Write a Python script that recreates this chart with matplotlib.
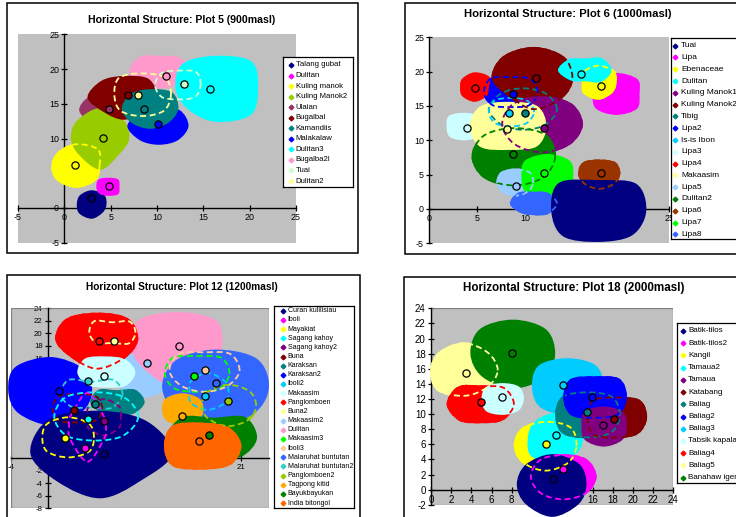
import numpy as np
import matplotlib
matplotlib.use("Agg")
import matplotlib.pyplot as plt
from matplotlib.path import Path
from matplotlib.patches import PathPatch, Rectangle

plt.rcParams["font.family"] = ["Liberation Sans", "DejaVu Sans"]
plt.rcParams["axes.unicode_minus"] = False

# ---------------------------------------------------------------------------
# Plot 5 (900 masl)
# crown radii are listed E, NE, N, NW, W, SW, S, SE (metres) around the crown centre
P5_NAMES = ["Talang gubat", "Dulitan", "Kuling manok", "Kuling Manok2", "Ulaian",
            "Bugalbal", "Kamandiis", "Malakalaw", "Dulitan3", "Bugalba2l", "Tuai", "Dulitan2"]
P5_COLORS = ["#000080", "#FF00FF", "#FFFF00", "#99CC00", "#993366", "#800000",
             "#008080", "#0000FF", "#00FFFF", "#FF99CC", "#CCFFCC", "#FFFF99"]
P5_TREE_X = [2.84, 4.78, 1.19, 4.14, 4.78, 6.83, 8.63, 10.07, 15.7, 10.94, 12.95, 7.99]
P5_TREE_Y = [1.39, 3.11, 6.12, 10.14, 14.2, 16.2, 14.2, 12.1, 17.1, 19.0, 17.9, 16.2]
P5_CROWN_X = [2.95, 4.75, 1.3, 3.9, 4.3, 6.4, 9.3, 10.2, 16.3, 10.4, 12.3, 8.4]
P5_CROWN_Y = [0.55, 3.05, 6.1, 10.0, 14.1, 15.9, 14.3, 11.8, 17.2, 19.5, 17.7, 16.3]
P5_CROWN_R = [
    [1.6, 1.9, 2.0, 1.8, 1.6, 1.9, 2.1, 1.7],
    [1.2, 1.5, 1.3, 1.5, 1.3, 1.4, 1.3, 1.5],
    [2.6, 3.4, 3.2, 2.8, 2.7, 3.0, 3.2, 3.0],
    [3.1, 3.6, 4.4, 3.6, 3.2, 3.3, 4.5, 3.0],
    [2.5, 2.2, 2.0, 2.5, 2.7, 2.3, 2.2, 2.2],
    [3.6, 3.8, 3.1, 3.4, 3.9, 3.0, 3.2, 3.0],
    [3.0, 3.3, 2.8, 3.0, 3.1, 2.9, 2.9, 2.8],
    [3.2, 3.2, 2.6, 2.8, 3.4, 2.9, 2.7, 2.9],
    [4.6, 5.5, 4.7, 5.0, 4.3, 4.2, 4.8, 5.4],
    [3.3, 3.0, 2.4, 3.2, 3.4, 2.8, 2.3, 2.5],
    [2.5, 2.8, 2.2, 2.6, 2.6, 2.6, 2.2, 2.6],
    [3.2, 3.6, 3.2, 3.6, 3.1, 3.4, 3.2, 3.4],
]
P5_FILLED = [4, 2, 3, 9, 5, 7, 6, 8, 0, 1]
P5_DASHED = [2, 10, 11]

# ---------------------------------------------------------------------------
# Plot 6 (1000 masl)
P6_NAMES = ["Tuai", "Lipa", "Ebenaceae", "Dulitan", "Kuling Manok1", "Kuling Manok2",
            "Tibig", "Lipa2", "Is-is Ibon", "Lipa3", "Lipa4", "Makaasim", "Lipa5",
            "Dulitan2", "Lipa6", "Lipa7", "Lipa8"]
P6_COLORS = ["#000080", "#FF00FF", "#FFFF00", "#00FFFF", "#800080", "#800000",
             "#008080", "#0000FF", "#00CCFF", "#CCFFFF", "#FF0000", "#FFFF99",
             "#99CCFF", "#008000", "#993300", "#00FF00", "#3366FF"]
P6_TREE_X = [np.nan, np.nan, 17.85, 15.76, 11.94, 11.1, 10.0, 8.75, 8.33, 3.96, 4.8,
             8.06, 9.03, 8.75, 17.85, 11.9, np.nan]
P6_TREE_Y = [np.nan, np.nan, 17.9, 19.66, 11.84, 19.1, 14.0, 16.75, 14.0, 11.84, 17.6,
             11.6, 3.4, 7.96, 5.2, 5.2, np.nan]
P6_CROWN_X = [17.6, 19.5, 17.6, 16.2, 11.8, 10.9, 9.8, 8.5, 8.5, 3.6, 4.7, 8.3, 9.0,
              8.8, 17.7, 12.3, 10.8]
P6_CROWN_Y = [-0.3, 16.7, 18.4, 20.2, 12.3, 19.1, 14.5, 17.0, 14.1, 12.0, 17.7, 12.0,
              3.8, 7.6, 5.1, 4.7, 0.8]
P6_CROWN_R = [
    [5.0, 5.6, 4.5, 5.8, 4.9, 5.2, 4.5, 5.0],
    [2.4, 3.1, 3.1, 3.0, 2.5, 3.0, 3.0, 3.0],
    [1.9, 2.4, 2.6, 2.3, 1.7, 2.2, 2.5, 2.1],
    [2.8, 2.5, 1.7, 2.3, 2.8, 2.1, 1.6, 2.4],
    [4.2, 4.3, 4.1, 4.4, 4.3, 4.2, 4.2, 4.1],
    [4.1, 4.4, 4.5, 4.5, 4.4, 3.8, 4.7, 4.2],
    [3.6, 3.4, 3.2, 3.4, 3.7, 3.3, 3.1, 3.3],
    [2.9, 2.9, 2.3, 3.0, 2.9, 2.8, 2.3, 2.8],
    [2.5, 2.5, 2.2, 2.5, 2.4, 2.4, 2.2, 2.4],
    [1.8, 2.2, 2.0, 2.2, 1.8, 2.1, 2.0, 2.1],
    [1.5, 2.2, 2.2, 1.8, 1.5, 1.8, 2.1, 1.8],
    [3.9, 4.2, 3.6, 4.2, 4.1, 4.2, 3.4, 4.1],
    [1.9, 2.2, 2.1, 2.2, 2.0, 2.0, 2.0, 1.9],
    [4.4, 4.7, 4.3, 4.5, 4.4, 4.4, 4.3, 4.4],
    [2.2, 2.4, 2.1, 2.4, 2.2, 2.2, 2.3, 2.2],
    [2.7, 3.3, 3.3, 3.3, 2.7, 3.2, 3.4, 3.2],
    [2.6, 2.2, 1.7, 2.2, 2.4, 1.9, 1.7, 2.2],
]
P6_FILLED = [7, 5, 10, 4, 13, 9, 11, 12, 15, 16, 14, 0, 1, 2, 3]
P6_DASHED = [6, 8, 7, 4, 5, 13, 12, 16, 14, 2]

# ---------------------------------------------------------------------------
# Plot 12 (1200 masl)
P12_NAMES = ["Curan kulilisiau", "Iboli", "Mayakiat", "Sagang kahoy", "Sagang kahoy2",
             "Buna", "Karaksan", "Karaksan2", "Iboli2", "Makaasim", "Panglomboen",
             "Buna2", "Makaasim2", "Dulitan", "Makaasim3", "Iboli3", "Malaruhat buntutan",
             "Malaruhat buntutan2", "Panglomboen2", "Tagpong kitid", "Bayukbayukan",
             "India bitongol"]
P12_COLORS = ["#000080", "#FF00FF", "#FFFF00", "#00FFFF", "#800080", "#800000",
              "#008080", "#0000FF", "#00CCFF", "#CCFFFF", "#FF0000", "#FFFF99",
              "#99CCFF", "#FF99CC", "#00FF00", "#FFCC99", "#3366FF", "#33CCCC",
              "#99CC00", "#FFAA00", "#008000", "#FF6600"]
P12_TREE_X = [6.05, 3.98, 1.91, 4.35, 6.12, 2.86, 5.14, 1.2, 17.0, 6.12, 5.5, 7.14,
              10.77, 14.2, 15.85, 17.0, 18.2, 4.35, 19.6, 14.6, 17.5, 16.4]
P12_TREE_Y = [0.64, 1.7, 3.3, 6.3, 5.9, 7.73, 8.7, 10.8, 10.0, 13.1, 18.8, 18.8,
              15.2, 18.0, 13.1, 14.2, 12.1, 12.3, 9.2, 6.8, 3.7, 2.8]
P12_CROWN_X = [5.7, 4.3, 2.2, 5.1, 6.1, 3.2, 7.5, 0.3, 17.3, 6.3, 5.3, 7.0, 10.5, 14.0,
               16.2, 17.0, 18.2, 4.7, 19.6, 14.6, 18.0, 16.8]
P12_CROWN_Y = [0.8, 5.0, 3.3, 6.6, 6.5, 8.0, 9.0, 10.8, 10.6, 13.7, 19.0, 20.1, 13.5,
               17.8, 13.5, 14.0, 11.5, 10.2, 8.5, 7.7, 3.2, 2.0]
P12_CROWN_R = [
    [7.8, 7.2, 6.8, 7.8, 7.6, 6.5, 7.2, 6.2],
    [2.1, 2.6, 5.6, 2.7, 2.1, 2.8, 5.7, 2.7],
    [2.9, 3.3, 3.4, 3.3, 2.9, 3.3, 3.3, 3.3],
    [4.8, 4.6, 4.1, 4.6, 4.5, 4.4, 3.9, 4.4],
    [1.9, 2.5, 3.1, 2.5, 1.9, 2.5, 3.0, 2.4],
    [2.8, 2.9, 2.4, 2.9, 2.8, 2.9, 2.4, 2.9],
    [3.0, 2.8, 1.9, 2.8, 2.9, 2.4, 2.0, 2.6],
    [4.5, 5.0, 5.4, 5.4, 4.6, 5.0, 5.5, 4.8],
    [2.4, 2.7, 3.2, 2.6, 2.0, 2.6, 3.0, 2.7],
    [3.2, 3.0, 2.6, 3.2, 3.1, 2.8, 2.4, 3.0],
    [4.5, 4.8, 4.3, 4.7, 4.5, 4.0, 4.8, 4.3],
    [2.6, 2.7, 1.8, 2.8, 2.6, 2.5, 1.8, 2.6],
    [3.3, 3.5, 4.4, 3.6, 3.3, 3.5, 3.8, 3.4],
    [4.9, 6.0, 5.6, 6.0, 5.0, 5.0, 6.5, 5.3],
    [3.6, 3.8, 3.0, 3.8, 3.6, 3.5, 3.0, 3.5],
    [3.9, 4.0, 3.1, 4.0, 3.9, 3.6, 3.5, 3.6],
    [5.8, 6.3, 5.9, 6.0, 5.8, 6.0, 6.5, 6.0],
    [3.5, 3.5, 2.2, 3.5, 3.4, 3.0, 2.2, 3.2],
    [3.1, 3.3, 3.4, 3.2, 3.0, 3.2, 3.5, 3.3],
    [2.3, 2.6, 2.7, 2.6, 2.2, 2.4, 2.4, 2.4],
    [4.7, 4.8, 3.3, 4.8, 5.1, 4.2, 3.1, 4.2],
    [4.2, 4.1, 3.7, 4.6, 4.2, 4.6, 3.8, 4.3],
]
P12_FILLED = [12, 13, 10, 7, 6, 9, 0, 18, 16, 19, 20, 21]
P12_DASHED = [10, 11, 17, 5, 3, 4, 1, 2, 14, 15, 8, 18, 21]

# ---------------------------------------------------------------------------
# Plot 18 (2000 masl)
P18_NAMES = ["Batik-tilos", "Batik-tilos2", "Kangil", "Tamaua2", "Tamaua", "Katabang",
             "Baliag", "Baliag2", "Baliag3", "Tabsik kapala", "Baliag4", "Baliag5",
             "Banahaw igen"]
P18_COLORS = ["#000080", "#FF00FF", "#FFFF00", "#00FFFF", "#800080", "#800000",
              "#008080", "#0000FF", "#00CCFF", "#CCFFFF", "#FF0000", "#FFFF99", "#008000"]
P18_TREE_X = [12.05, 13.1, 11.35, 12.4, 17.0, 18.1, 15.5, 15.9, 13.1, 7.03, 4.95, 3.43, 8.05]
P18_TREE_Y = [1.37, 2.78, 6.0, 7.3, 8.5, 9.35, 10.3, 12.3, 13.9, 12.3, 11.6, 15.4, 18.1]
P18_CROWN_X = [12.0, 13.1, 11.3, 12.4, 17.1, 18.4, 15.5, 16.2, 13.5, 7.1, 5.0, 3.3, 8.1]
P18_CROWN_Y = [0.7, 1.7, 5.8, 6.9, 8.4, 9.5, 9.9, 12.2, 13.6, 12.0, 11.3, 15.8, 18.0]
P18_CROWN_R = [
    [3.4, 3.8, 4.0, 3.7, 3.5, 3.7, 4.3, 3.7],
    [3.3, 3.3, 3.0, 3.3, 3.3, 3.2, 3.1, 3.2],
    [3.2, 3.6, 3.3, 3.3, 3.1, 3.2, 3.4, 3.3],
    [2.7, 3.7, 3.3, 3.0, 2.8, 3.5, 3.3, 2.9],
    [2.3, 2.7, 2.6, 2.7, 2.2, 2.6, 2.7, 2.6],
    [3.0, 3.3, 2.8, 3.4, 3.0, 3.3, 2.7, 3.0],
    [3.3, 3.5, 3.1, 3.5, 3.2, 3.5, 3.1, 3.4],
    [3.2, 3.5, 2.8, 3.4, 3.1, 3.3, 2.8, 3.3],
    [3.6, 4.0, 3.8, 4.0, 3.5, 3.8, 3.7, 3.8],
    [2.1, 2.3, 2.1, 2.3, 2.1, 2.3, 2.1, 2.2],
    [3.3, 3.2, 2.5, 3.3, 3.45, 3.1, 2.5, 3.0],
    [3.4, 3.4, 3.7, 3.5, 3.4, 3.8, 3.5, 3.3],
    [4.2, 4.6, 4.5, 4.6, 4.2, 4.3, 4.6, 4.5],
]
P18_FILLED = [11, 12, 10, 9, 8, 2, 3, 6, 5, 7, 4, 1, 0]
P18_DASHED = [11, 10, 2, 1, 6, 5, 7]

# ---------------------------------------------------------------------------
W, H = 736, 517
fig = plt.figure(figsize=(W / 100, H / 100), dpi=100)
fig.patch.set_facecolor("white")


def fig_rect(x0, y0, x1, y1):
    """Pixel box (top-left origin) -> figure fraction [left, bottom, width, height]."""
    return [x0 / W, 1 - y1 / H, (x1 - x0) / W, (y1 - y0) / H]


def crown_path(cx, cy, radii):
    """Smooth closed outline through the measured crown radii."""
    r = np.asarray(radii, dtype=float)
    n = len(r)
    ang = np.arange(n) * 2 * np.pi / n
    pts = np.column_stack([cx + r * np.cos(ang), cy + r * np.sin(ang)])
    verts = [pts[0]]
    codes = [Path.MOVETO]
    for i in range(n):
        p0, p1, p2, p3 = pts[i - 1], pts[i], pts[(i + 1) % n], pts[(i + 2) % n]
        verts += [p1 + (p2 - p0) / 6, p2 - (p3 - p1) / 6, p2]
        codes += [Path.CURVE4] * 3
    verts.append(pts[0])
    codes.append(Path.CLOSEPOLY)
    return Path(verts, codes)


def panel_frame(x0, y0, x1, y1):
    fig.patches.append(Rectangle((x0 / W, 1 - y1 / H), (x1 - x0) / W, (y1 - y0) / H,
                                 transform=fig.transFigure, facecolor="white",
                                 edgecolor="black", linewidth=1.1, zorder=-5))


def draw_panel(rect, xlim, ylim, xticks, yticks, names, colors, tx, ty, cx, cy, cr,
               filled, dashed, tick_fs, plot_edge=False):
    ax = fig.add_axes(fig_rect(*rect))
    ax.set_facecolor("#C0C0C0")
    ax.set_xlim(*xlim)
    ax.set_ylim(*ylim)
    ax.set_axisbelow(True)
    for s in ("top", "right"):
        ax.spines[s].set_visible(False)
    for s in ("left", "bottom"):
        ax.spines[s].set_position(("data", 0))
        ax.spines[s].set_linewidth(1.0)
        ax.spines[s].set_zorder(0.6)
    ax.set_xticks(xticks)
    ax.set_yticks(yticks)
    ax.tick_params(direction="inout", length=4.5, width=0.9, labelsize=tick_fs, pad=1.5)
    if plot_edge:
        ax.add_patch(Rectangle((0, 0), 1, 1, transform=ax.transAxes, facecolor="none",
                               edgecolor="#808080", linewidth=0.9, zorder=0.55))
    for i in filled:
        ax.add_patch(PathPatch(crown_path(cx[i], cy[i], cr[i]), facecolor=colors[i],
                               edgecolor="none", zorder=2, clip_on=False))
    for i in dashed:
        outline = crown_path(cx[i], cy[i], cr[i])
        dash = PathPatch(outline, facecolor="none", edgecolor=colors[i], linewidth=2.6,
                         linestyle=(0, (1.7, 1.0)), zorder=3)
        ax.add_patch(dash)
        # keep only the inner half of the dashed stroke, inside the crown outline
        dash.set_clip_path(PathPatch(outline, transform=ax.transData))
        dash.set_clip_box(None)
    for i in range(len(names)):
        ax.plot(tx[i], ty[i], "o", ms=5.2, mfc=colors[i], mec="black", mew=0.9,
                zorder=5, clip_on=False)
    return ax


def draw_legend(box, names, colors, y_first, y_step, mk_x, txt_x, fs):
    lax = fig.add_axes(fig_rect(*box))
    lax.set_xlim(box[0], box[2])
    lax.set_ylim(box[3], box[1])
    lax.set_xticks([])
    lax.set_yticks([])
    lax.set_facecolor("white")
    for s in lax.spines.values():
        s.set_linewidth(0.9)
    for k, (name, col) in enumerate(zip(names, colors)):
        y = y_first + k * y_step
        lax.plot(mk_x, y, "D", ms=2.4, color=col, clip_on=False)
        lax.text(txt_x, y, name, fontsize=fs, va="center", ha="left", clip_on=False)


# chart frames
panel_frame(7, 3, 358, 253)
panel_frame(405, 3, 745, 254)
panel_frame(7, 275, 360, 525)
panel_frame(404, 277, 745, 525)

# titles
fig.text(182 / W, 1 - 20 / H, "Horizontal Structure: Plot 5 (900masl)",
         fontsize=7.6, fontweight="bold", ha="center", va="center")
fig.text(567.5 / W, 1 - 14 / H, "Horizontal Structure: Plot 6 (1000masl)",
         fontsize=8.1, fontweight="bold", ha="center", va="center")
fig.text(181.7 / W, 1 - 286.7 / H, "Horizontal Structure: Plot 12 (1200masl)",
         fontsize=7.3, fontweight="bold", ha="center", va="center")
fig.text(573.7 / W, 1 - 288.3 / H, "Horizontal Structure: Plot 18 (2000masl)",
         fontsize=8.4, fontweight="bold", ha="center", va="center")

draw_panel((18, 34.3, 296, 242.7), (-5, 25), (-5, 25), range(-5, 26, 5), range(-5, 26, 5),
           P5_NAMES, P5_COLORS, P5_TREE_X, P5_TREE_Y, P5_CROWN_X, P5_CROWN_Y, P5_CROWN_R,
           P5_FILLED, P5_DASHED, 6.4)
draw_legend((283, 57, 353, 187), P5_NAMES, P5_COLORS, 65, 10.55, 290.5, 295.5, 5.6)

draw_panel((429.3, 37.3, 669.3, 243.3), (0, 25), (-5, 25), range(0, 26, 5), range(-5, 26, 5),
           P6_NAMES, P6_COLORS, P6_TREE_X, P6_TREE_Y, P6_CROWN_X, P6_CROWN_Y, P6_CROWN_R,
           P6_FILLED, P6_DASHED, 6.4)
draw_legend((671, 38, 745, 239), P6_NAMES, P6_COLORS, 45.7, 11.79, 675.5, 681, 6.0)

draw_panel((11, 308.3, 269, 508.3), (-4, 24), (-8, 24), range(-4, 24, 5), range(-8, 25, 2),
           P12_NAMES, P12_COLORS, P12_TREE_X, P12_TREE_Y, P12_CROWN_X, P12_CROWN_Y,
           P12_CROWN_R, P12_FILLED, P12_DASHED, 5.6, plot_edge=True)
draw_legend((274, 306, 354, 508), P12_NAMES, P12_COLORS, 310.7, 9.16, 283.3, 287.5, 5.0)

draw_panel((431, 308.3, 673.3, 504.8), (0, 24), (-2, 24), range(0, 25, 2), range(-2, 25, 2),
           P18_NAMES, P18_COLORS, P18_TREE_X, P18_TREE_Y, P18_CROWN_X, P18_CROWN_Y,
           P18_CROWN_R, P18_FILLED, P18_DASHED, 7.0, plot_edge=True)
draw_legend((677, 323, 745, 483), P18_NAMES, P18_COLORS, 331, 12.22, 683.3, 688, 5.75)

fig.savefig("out.png", dpi=100, facecolor="white")
